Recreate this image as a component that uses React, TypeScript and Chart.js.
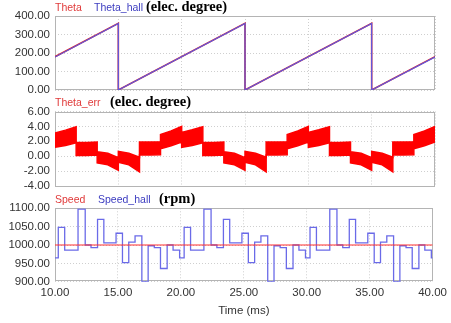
import React, { useEffect, useRef } from "react";
import { Chart, registerables } from "chart.js";

Chart.register(...registerables);

// ---------- data ----------
const xTicks = [10, 15, 20, 25, 30, 35, 40];
const thetaTicks = [0, 100, 200, 300, 400];
const errTicks = [-4, -2, 0, 2, 4, 6];
const speedTicks = [900, 950, 1000, 1050, 1100];

const thetaTime = [10, 15, 15, 25, 25, 35, 35, 40];
const thetaValues = [180, 360, 0, 360, 0, 360, 0, 180];
const thetaHallValues = [178, 360, 0, 360, 0, 360, 0, 178];

const errTime = [
  10, 10.83, 11.67, 11.67, 12.5, 13.33, 13.33, 14.17, 15, 15, 15.83, 16.67, 16.67, 17.5, 18.33, 18.33, 19.17, 20,
  20, 20.83, 21.67, 21.67, 22.5, 23.33, 23.33, 24.17, 25, 25, 25.83, 26.67, 26.67, 27.5, 28.33, 28.33, 29.17, 30,
  30, 30.83, 31.67, 31.67, 32.5, 33.33, 33.33, 34.17, 35, 35, 35.83, 36.67, 36.67, 37.5, 38.33, 38.33, 39.17, 40,
];
const errUpper = [
  3.1, 3.5, 3.95, 1.85, 1.85, 1.9, 0.6, 0.4, -0.2, 0.65, 0.4, -0.15, 1.9, 1.9, 1.95, 2.9, 3.4, 4.0,
  3.2, 3.55, 3.95, 1.85, 1.85, 1.9, 0.6, 0.4, -0.2, 0.65, 0.4, -0.15, 1.9, 1.9, 1.95, 2.9, 3.4, 4.0,
  3.2, 3.55, 3.95, 1.85, 1.85, 1.9, 0.6, 0.4, -0.2, 0.65, 0.4, -0.15, 1.9, 1.9, 1.95, 2.9, 3.4, 4.0,
];
const errLower = [
  1.2, 1.45, 1.8, 0.1, 0.1, 0.15, -0.9, -1.15, -1.9, -0.8, -1.15, -2.1, 0.15, 0.15, 0.2, 1.0, 1.4, 1.9,
  1.2, 1.45, 1.8, 0.1, 0.1, 0.15, -0.9, -1.15, -1.9, -0.8, -1.15, -2.1, 0.15, 0.15, 0.2, 1.0, 1.4, 1.9,
  1.2, 1.45, 1.8, 0.1, 0.1, 0.15, -0.9, -1.15, -1.9, -0.8, -1.15, -2.1, 0.15, 0.15, 0.2, 1.0, 1.4, 1.9,
];

const speedHallTime = [
  10, 10.26, 10.77, 11.83, 12.4, 12.86, 13.38, 13.88, 14.85, 15.36, 15.86, 16.36, 16.9, 17.4, 17.89, 18.38, 18.91, 19.38, 19.9,
  20.26, 20.77, 21.83, 22.4, 22.86, 23.38, 23.88, 24.85, 25.36, 25.86, 26.36, 26.9, 27.4, 27.89, 28.38, 28.91, 29.38, 29.9,
  30.26, 30.77, 31.83, 32.4, 32.86, 33.38, 33.88, 34.85, 35.36, 35.86, 36.36, 36.9, 37.4, 37.89, 38.38, 38.91, 39.38, 39.9,
  40,
];
const speedHallValues = [
  965, 1048, 986, 1098, 1000, 993, 1070, 1006, 1032, 952, 1008, 1025, 900, 998, 993, 936, 1000, 986, 965,
  1048, 986, 1098, 1000, 993, 1070, 1006, 1032, 952, 1008, 1025, 900, 998, 993, 936, 1000, 986, 965,
  1048, 986, 1098, 1000, 993, 1070, 1006, 1032, 952, 1008, 1025, 900, 998, 993, 936, 1000, 986, 965,
  965,
];
const speedTime = [10, 40];
const speedValues = [1000, 1000];

// ---------- helpers ----------
const W = 451;
const H = 323;
const TICK_FONT = { family: "'Liberation Sans', Arial, sans-serif", size: 11.5 };

const boxPlugin = {
  id: "plotBox",
  beforeDatasetsDraw(chart: any) {
    const { ctx, chartArea: a } = chart;
    ctx.save();
    ctx.strokeStyle = "#b4b4b4";
    ctx.lineWidth = 1;
    ctx.strokeRect(Math.round(a.left) + 0.5, Math.round(a.top) + 0.5, Math.round(a.right - a.left) - 1, Math.round(a.bottom - a.top) - 1);
    ctx.restore();
  },
};

const pts = (xs: number[], ys: number[]) => xs.map((x, i) => ({ x, y: ys[i] }));

function makeOptions(yMin: number, yMax: number, yTickVals: number[], padTop: number, padBottom: number, showX: boolean) {
  return {
    responsive: false,
    animation: false as const,
    devicePixelRatio: 1,
    layout: { padding: { top: padTop, bottom: padBottom, left: 0, right: 16 } },
    plugins: { legend: { display: false }, tooltip: { enabled: false }, title: { display: false } },
    elements: { point: { radius: 0 }, line: { tension: 0 } },
    scales: {
      x: {
        type: "linear" as const,
        min: 10,
        max: 40,
        afterBuildTicks: (s: any) => {
          s.ticks = xTicks.map((v) => ({ value: v }));
        },
        afterFit: (s: any) => {
          s.height = showX ? 41.3 : 0;
        },
        grid: { color: "#cfcfcf", lineWidth: 1, drawTicks: false },
        border: { display: false, dash: [1, 2] },
        ticks: {
          display: showX,
          autoSkip: false,
          padding: 4,
          font: TICK_FONT,
          color: "#333",
          maxRotation: 0,
          callback: (v: any) => Number(v).toFixed(2),
        },
        title: {
          display: showX,
          text: "Time (ms)",
          font: TICK_FONT,
          color: "#333",
          padding: { top: 0, bottom: 5.5 },
        },
      },
      y: {
        type: "linear" as const,
        min: yMin,
        max: yMax,
        afterBuildTicks: (s: any) => {
          s.ticks = yTickVals.map((v) => ({ value: v }));
        },
        afterFit: (s: any) => {
          s.width = 55;
        },
        grid: { color: "#cfcfcf", lineWidth: 1, drawTicks: false },
        border: { display: false, dash: [1, 2] },
        ticks: {
          autoSkip: false,
          padding: 5,
          font: TICK_FONT,
          color: "#333",
          callback: (v: any) => Number(v).toFixed(2),
        },
      },
    },
  };
}

function useChart(ref: React.RefObject<HTMLCanvasElement | null>, build: () => any) {
  useEffect(() => {
    if (!ref.current) return;
    const chart = new Chart(ref.current, build());
    return () => chart.destroy();
  }, []);
}

const canvasStyle: React.CSSProperties = { position: "absolute", left: 0, top: 0, width: W, height: H };

const labelBase: React.CSSProperties = {
  position: "absolute",
  whiteSpace: "nowrap",
  transform: "translateY(-50%)",
  lineHeight: 1,
};
const sans: React.CSSProperties = { fontFamily: "'Liberation Sans', Arial, sans-serif", fontSize: 10.5 };
const serifBold: React.CSSProperties = { fontFamily: "'Liberation Serif', 'Times New Roman', serif", fontSize: 14.5, fontWeight: "bold", color: "#000" };

export default function App() {
  const c1 = useRef<HTMLCanvasElement>(null);
  const c2 = useRef<HTMLCanvasElement>(null);
  const c3 = useRef<HTMLCanvasElement>(null);

  useChart(c1, () => ({
    type: "line",
    data: {
      datasets: [
        { label: "Theta_hall", data: pts(thetaTime, thetaHallValues), borderColor: "#5a5ae6", borderWidth: 1.2, fill: false, order: 0 },
        { label: "Theta", data: pts(thetaTime, thetaValues), borderColor: "#e02020", borderWidth: 1.6, fill: false, order: 1 },
      ],
    },
    options: makeOptions(0, 400, thetaTicks, 16, H - 90, false),
    plugins: [boxPlugin],
  }));

  useChart(c2, () => ({
    type: "line",
    data: {
      datasets: [
        { label: "Theta_err", data: pts(errTime, errUpper), borderColor: "#ff0000", backgroundColor: "#ff0000", borderWidth: 1.5, fill: "+1" },
        { label: "Theta_err_low", data: pts(errTime, errLower), borderColor: "#ff0000", borderWidth: 1.5, fill: false },
      ],
    },
    options: makeOptions(-4, 6, errTicks, 111.5, H - 186, false),
    plugins: [boxPlugin],
  }));

  useChart(c3, () => ({
    type: "line",
    data: {
      datasets: [
        { label: "Speed", data: pts(speedTime, speedValues), borderColor: "#ff3030", borderWidth: 1.2, fill: false, order: 0 },
        { label: "Speed_hall", data: pts(speedHallTime, speedHallValues), borderColor: "#6a6ae8", borderWidth: 1.3, fill: false, stepped: "before", order: 1 },
      ],
    },
    options: makeOptions(900, 1100, speedTicks, 208.3, 0, true),
    plugins: [boxPlugin],
  }));

  return (
    <div style={{ position: "absolute", left: 0, top: 0, width: W, height: H, background: "#fff", overflow: "hidden" }}>
      <canvas ref={c1} width={W} height={H} style={canvasStyle} />
      <canvas ref={c2} width={W} height={H} style={canvasStyle} />
      <canvas ref={c3} width={W} height={H} style={canvasStyle} />

      <div style={{ ...labelBase, ...sans, left: 55, top: 7, color: "#e03a3a" }}>Theta</div>
      <div style={{ ...labelBase, ...sans, left: 94, top: 7, color: "#3c3cc0" }}>Theta_hall</div>
      <div style={{ ...labelBase, ...serifBold, left: 146, top: 6 }}>(elec. degree)</div>

      <div style={{ ...labelBase, ...sans, left: 55, top: 102, color: "#e03a3a" }}>Theta_err</div>
      <div style={{ ...labelBase, ...serifBold, left: 110, top: 101 }}>(elec. degree)</div>

      <div style={{ ...labelBase, ...sans, left: 55, top: 199, color: "#e03a3a" }}>Speed</div>
      <div style={{ ...labelBase, ...sans, left: 98, top: 199, color: "#3c3cc0" }}>Speed_hall</div>
      <div style={{ ...labelBase, ...serifBold, left: 159, top: 198 }}>(rpm)</div>
    </div>
  );
}
